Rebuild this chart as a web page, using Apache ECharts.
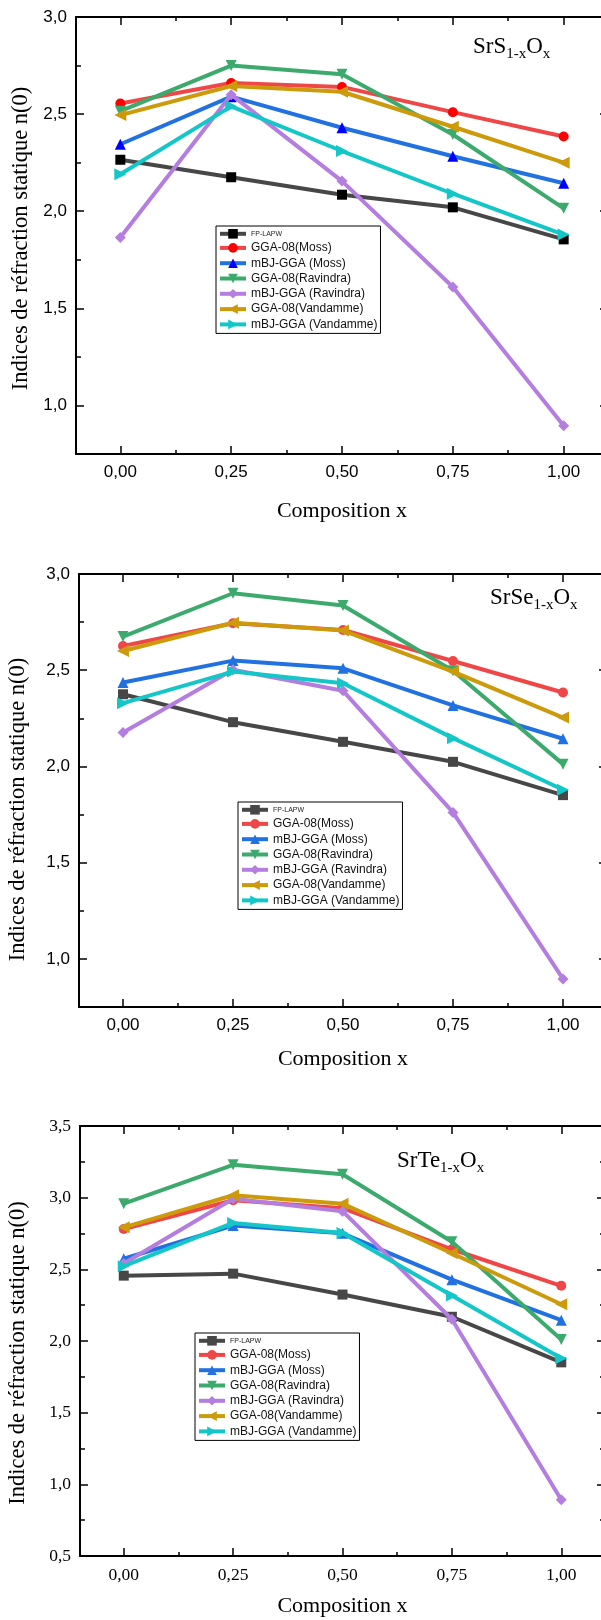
<!DOCTYPE html>
<html>
<head>
<meta charset="utf-8">
<script src="https://cdn.jsdelivr.net/npm/echarts@6/dist/echarts.min.js"></script>
<style>
  html, body { margin: 0; padding: 0; background: #fff; }
  #c { width: 601px; height: 1620px; }
</style>
</head>
<body>
<div id="c"></div>
<script>
// Composition x of the SrX(1-x)O(x) alloys
const compositions = [0, 0.25, 0.5, 0.75, 1.0];
const seriesNames = ['FP-LAPW', 'GGA-08(Moss)', 'mBJ-GGA (Moss)', 'GGA-08(Ravindra)',
                     'mBJ-GGA (Ravindra)', 'GGA-08(Vandamme)', 'mBJ-GGA (Vandamme)'];
const xMajorTicks = [0, 0.25, 0.5, 0.75, 1.0];
const xMinorTicks = [0.125, 0.375, 0.625, 0.875];

// SrS(1-x)O(x) static refractive index n(0)
const srsFpLapw      = [2.265, 2.175, 2.085, 2.02, 1.855];
const srsGgaMoss     = [2.555, 2.66, 2.64, 2.51, 2.385];
const srsMbjMoss     = [2.345, 2.59, 2.43, 2.283, 2.144];
const srsGgaRavindra = [2.515, 2.75, 2.705, 2.395, 2.015];
const srsMbjRavindra = [1.865, 2.6, 2.155, 1.61, 0.895];
const srsGgaVandamme = [2.495, 2.645, 2.615, 2.435, 2.25];
const srsMbjVandamme = [2.19, 2.54, 2.31, 2.09, 1.88];

// SrSe(1-x)O(x)
const srseFpLapw      = [2.375, 2.23, 2.128, 2.024, 1.851];
const srseGgaMoss     = [2.626, 2.744, 2.709, 2.548, 2.384];
const srseMbjMoss     = [2.436, 2.55, 2.51, 2.317, 2.144];
const srseGgaRavindra = [2.675, 2.9, 2.836, 2.497, 2.012];
const srseMbjRavindra = [2.176, 2.502, 2.393, 1.761, 0.896];
const srseGgaVandamme = [2.6, 2.747, 2.706, 2.493, 2.254];
const srseMbjVandamme = [2.329, 2.493, 2.432, 2.147, 1.879];

// SrTe(1-x)O(x)
const srteFpLapw      = [2.456, 2.47, 2.324, 2.169, 1.851];
const srteGgaMoss     = [2.781, 2.982, 2.927, 2.64, 2.385];
const srteMbjMoss     = [2.574, 2.805, 2.751, 2.428, 2.145];
const srteGgaRavindra = [2.958, 3.229, 3.163, 2.692, 2.011];
const srteMbjRavindra = [2.541, 2.993, 2.906, 2.152, 0.892];
const srteGgaVandamme = [2.793, 3.017, 2.958, 2.612, 2.256];
const srteMbjVandamme = [2.522, 2.824, 2.753, 2.317, 1.879];

// y-axis ticks
const yMajorA = [1.0, 1.5, 2.0, 2.5, 3.0];
const yMinorA = [1.25, 1.75, 2.25, 2.75];
const yMajorB = [0.5, 1.0, 1.5, 2.0, 2.5, 3.0, 3.5];
const yMinorB = [0.75, 1.25, 1.75, 2.25, 2.75, 3.25];

// styling
const lineColors = ['#474747', '#ef4747', '#2271e0', '#3caa6c', '#b47ee0', '#cc9a0a', '#14c6c8'];
const symbols = [
  { symbol: 'rect', rotate: 0, size: 10 },
  { symbol: 'circle', rotate: 0, size: 10 },
  { symbol: 'triangle', rotate: 0, size: 11 },
  { symbol: 'triangle', rotate: 180, size: 11 },
  { symbol: 'diamond', rotate: 0, size: 11 },
  { symbol: 'triangle', rotate: 90, size: 12 },
  { symbol: 'triangle', rotate: -90, size: 12 }
];

const panels = [
  {
    series: [srsFpLapw, srsGgaMoss, srsMbjMoss, srsGgaRavindra, srsMbjRavindra, srsGgaVandamme, srsMbjVandamme],
    markerColors: ['#000000', '#ff0000', '#0000ff', null, null, null, null],
    grid: { left: 76, top: 17, width: 532, height: 437 },
    yMin: 0.75, yMax: 3.0, yMajor: yMajorA, yMinor: yMinorA,
    tickFont: 'Liberation Sans', tickSize: 17,
    nameGapX: 46, nameGapY: 40, nameShiftY: 6,
    legend: { left: 216, top: 226 },
    title: { left: 473, top: 35, main: 'SrS' }
  },
  {
    series: [srseFpLapw, srseGgaMoss, srseMbjMoss, srseGgaRavindra, srseMbjRavindra, srseGgaVandamme, srseMbjVandamme],
    markerColors: [null, null, null, null, null, null, null],
    grid: { left: 79, top: 574, width: 528, height: 433 },
    yMin: 0.75, yMax: 3.0, yMajor: yMajorA, yMinor: yMinorA,
    tickFont: 'Liberation Sans', tickSize: 17,
    nameGapX: 41, nameGapY: 49, nameShiftY: 38,
    legend: { left: 238, top: 802 },
    title: { left: 490, top: 586, main: 'SrSe' }
  },
  {
    series: [srteFpLapw, srteGgaMoss, srteMbjMoss, srteGgaRavindra, srteMbjRavindra, srteGgaVandamme, srteMbjVandamme],
    markerColors: [null, null, null, null, null, null, null],
    grid: { left: 80, top: 1126, width: 525, height: 430 },
    yMin: 0.5, yMax: 3.5, yMajor: yMajorB, yMinor: yMinorB,
    tickFont: 'Liberation Serif', tickSize: 17.5,
    nameGapX: 39, nameGapY: 50, nameShiftY: 24,
    legend: { left: 195, top: 1333 },
    title: { left: 397, top: 1149, main: 'SrTe' }
  }
];

const fmtX = v => v.toFixed(2).replace('.', ',');
const fmtY = v => v.toFixed(1).replace('.', ',');

const grids = [], xAxes = [], yAxes = [], series = [], legends = [], graphics = [];

panels.forEach((p, i) => {
  grids.push(Object.assign({ containLabel: false, outerBoundsMode: 'none' }, p.grid));
  const tickLine = { color: '#000', width: 1.5 };
  const axisLine = { show: true, onZero: false, lineStyle: { color: '#000', width: 2 } };
  const noLine = { show: false, onZero: false };
  const xBase = { gridIndex: i, type: 'value', min: -0.1, max: 1.1, splitLine: { show: false } };
  const yBase = { gridIndex: i, type: 'value', min: p.yMin, max: p.yMax, splitLine: { show: false } };
  const labelStyle = { fontFamily: p.tickFont, fontSize: p.tickSize, color: '#000' };
  const nameStyle = { fontFamily: 'Liberation Serif', fontSize: 22, color: '#000' };

  // bottom: major ticks + labels + name, then minor ticks
  xAxes.push(Object.assign({}, xBase, {
    position: 'bottom', axisLine,
    axisTick: { show: true, inside: true, length: 8, customValues: xMajorTicks, lineStyle: tickLine },
    axisLabel: Object.assign({ show: true, customValues: xMajorTicks, formatter: fmtX, margin: 10 }, labelStyle),
    name: 'Composition x', nameLocation: 'middle', nameGap: p.nameGapX, nameTextStyle: nameStyle
  }));
  xAxes.push(Object.assign({}, xBase, {
    position: 'bottom', axisLine: noLine,
    axisTick: { show: true, inside: true, length: 4, customValues: xMinorTicks, lineStyle: tickLine },
    axisLabel: { show: false }
  }));
  // top frame
  xAxes.push(Object.assign({}, xBase, {
    position: 'top', axisLine,
    axisTick: { show: true, inside: true, length: 8, customValues: xMajorTicks, lineStyle: tickLine },
    axisLabel: { show: false }
  }));
  xAxes.push(Object.assign({}, xBase, {
    position: 'top', axisLine: noLine,
    axisTick: { show: true, inside: true, length: 4, customValues: xMinorTicks, lineStyle: tickLine },
    axisLabel: { show: false }
  }));

  // left: major ticks + labels + name, then minor ticks
  yAxes.push(Object.assign({}, yBase, {
    position: 'left', axisLine,
    axisTick: { show: true, inside: true, length: 8, customValues: p.yMajor, lineStyle: tickLine },
    axisLabel: Object.assign({ show: true, customValues: p.yMajor, formatter: fmtY, margin: 9 }, labelStyle),
    name: 'Indices de réfraction statique n(0)', nameLocation: 'middle', nameGap: p.nameGapY,
    nameTextStyle: Object.assign({}, nameStyle, { fontSize: 22.5, padding: [0, p.nameShiftY, 0, 0] })
  }));
  yAxes.push(Object.assign({}, yBase, {
    position: 'left', axisLine: noLine,
    axisTick: { show: true, inside: true, length: 5, customValues: p.yMinor, lineStyle: tickLine },
    axisLabel: { show: false }
  }));
  // right side ticks (the frame edge itself lies past the page edge)
  yAxes.push(Object.assign({}, yBase, {
    position: 'right', axisLine: noLine,
    axisTick: { show: true, inside: true, length: 8, customValues: p.yMajor, lineStyle: tickLine },
    axisLabel: { show: false }
  }));
  yAxes.push(Object.assign({}, yBase, {
    position: 'right', axisLine: noLine,
    axisTick: { show: true, inside: true, length: 5, customValues: p.yMinor, lineStyle: tickLine },
    axisLabel: { show: false }
  }));

  p.series.forEach((vals, k) => {
    const sym = symbols[k];
    series.push({
      type: 'line',
      name: seriesNames[k],
      xAxisIndex: i * 4,
      yAxisIndex: i * 4,
      data: compositions.map((x, j) => [x, vals[j]]),
      symbol: sym.symbol,
      symbolRotate: sym.rotate,
      symbolSize: sym.size,
      showSymbol: true,
      lineStyle: { width: 4, color: lineColors[k] },
      itemStyle: { color: p.markerColors[k] || lineColors[k], borderWidth: 0 },
      emphasis: { disabled: true },
      z: 2 + k
    });
  });

  legends.push({
    left: p.legend.left, top: p.legend.top,
    orient: 'vertical',
    itemWidth: 26, itemHeight: 12, itemGap: 3.3,
    padding: [3, 3, 3, 2],
    backgroundColor: '#fff', borderColor: '#000', borderWidth: 1, borderRadius: 0,
    selectedMode: false,
    textStyle: { fontFamily: 'Liberation Sans', fontSize: 12, color: '#111' },
    data: seriesNames.map((n, k) => ({
      name: n,
      itemStyle: { color: p.markerColors[k] || lineColors[k] },
      lineStyle: { color: lineColors[k], width: 4 },
      textStyle: k === 0 ? { fontSize: 7, color: '#222' } : undefined
    }))
  });

  graphics.push({
    type: 'text', left: p.title.left, top: p.title.top, z: 100,
    style: {
      text: '{m|' + p.title.main + '}{s|1-x}{m|O}{s|x}',
      rich: {
        m: { fontFamily: 'Liberation Serif', fontSize: 23, lineHeight: 30, fill: '#000' },
        s: { fontFamily: 'Liberation Serif', fontSize: 15, lineHeight: 11, verticalAlign: 'bottom', fill: '#000' }
      }
    }
  });
});

const chart = echarts.init(document.getElementById('c'), null, { renderer: 'canvas', width: 601, height: 1620 });
chart.setOption({
  animation: false,
  backgroundColor: '#fff',
  textStyle: { fontFamily: 'Liberation Sans' },
  grid: grids,
  xAxis: xAxes,
  yAxis: yAxes,
  legend: legends,
  series: series,
  graphic: graphics
});
</script>
</body>
</html>
